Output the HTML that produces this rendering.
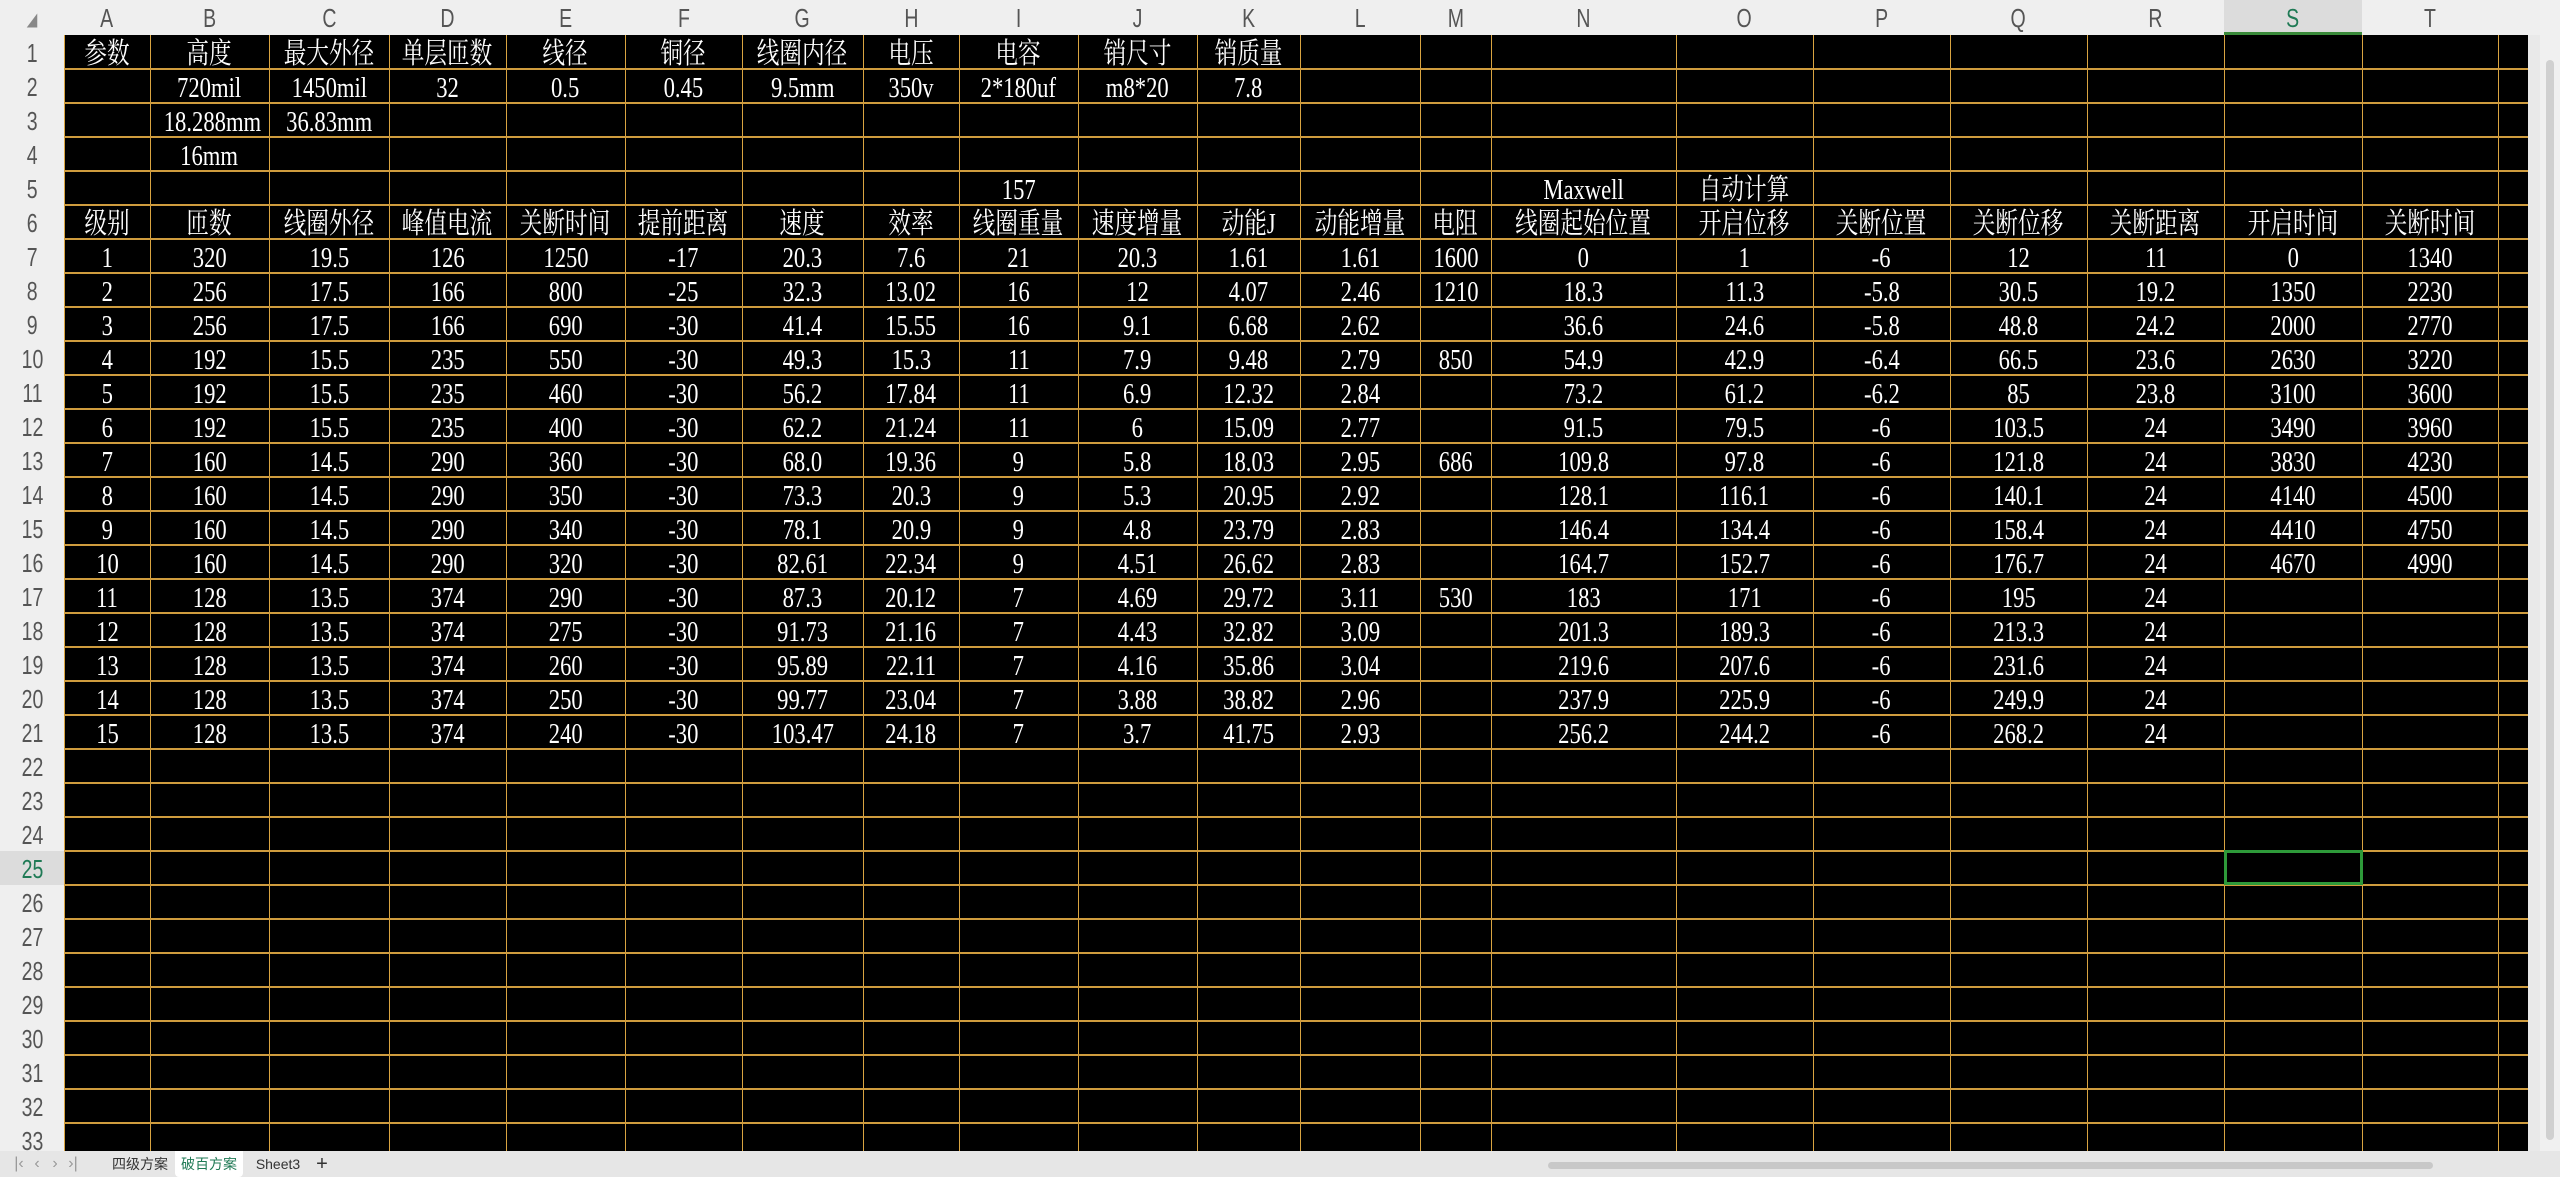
<!DOCTYPE html>
<html><head><meta charset="utf-8"><style>
body{margin:0;width:2560px;height:1177px;overflow:hidden;background:#e9e9e9;font-family:"Liberation Serif","Noto Serif CJK SC",serif;position:relative}
.c{position:absolute;box-sizing:border-box;color:#fff;text-align:center;white-space:nowrap;overflow:visible;font-size:29px;line-height:38px}
.c span{display:inline-block;transform:scaleX(0.78)}
.hd{position:absolute;color:#555;font-family:"Liberation Sans","Noto Sans CJK SC",sans-serif;font-size:26px;text-align:center}
.hd span{display:inline-block;transform:scaleX(0.75)}
.gl{position:absolute;background:#d9a441}
</style></head><body>
<div id="root"></div>
<script>
var colEdges=[64,150,269,389,506,625,742,863,959,1078,1197,1300,1420,1491,1676,1813,1950,2087,2224,2362,2498];
var colLetters=["A","B","C","D","E","F","G","H","I","J","K","L","M","N","O","P","Q","R","S","T"];
var rowTop=35, rowH=34, nRows=33, gridBottom=1151;
var sheetRows=[
["参数","高度","最大外径","单层匝数","线径","铜径","线圈内径","电压","电容","销尺寸","销质量"],
["","720mil","1450mil","32","0.5","0.45","9.5mm","350v","2*180uf","m8*20","7.8"],
["","18.288mm","36.83mm"],
["","16mm"],
["","","","","","","","","157","","","","","Maxwell","自动计算"],
["级别","匝数","线圈外径","峰值电流","关断时间","提前距离","速度","效率","线圈重量","速度增量","动能J","动能增量","电阻","线圈起始位置","开启位移","关断位置","关断位移","关断距离","开启时间","关断时间"],
["1","320","19.5","126","1250","-17","20.3","7.6","21","20.3","1.61","1.61","1600","0","1","-6","12","11","0","1340"],
["2","256","17.5","166","800","-25","32.3","13.02","16","12","4.07","2.46","1210","18.3","11.3","-5.8","30.5","19.2","1350","2230"],
["3","256","17.5","166","690","-30","41.4","15.55","16","9.1","6.68","2.62","","36.6","24.6","-5.8","48.8","24.2","2000","2770"],
["4","192","15.5","235","550","-30","49.3","15.3","11","7.9","9.48","2.79","850","54.9","42.9","-6.4","66.5","23.6","2630","3220"],
["5","192","15.5","235","460","-30","56.2","17.84","11","6.9","12.32","2.84","","73.2","61.2","-6.2","85","23.8","3100","3600"],
["6","192","15.5","235","400","-30","62.2","21.24","11","6","15.09","2.77","","91.5","79.5","-6","103.5","24","3490","3960"],
["7","160","14.5","290","360","-30","68.0","19.36","9","5.8","18.03","2.95","686","109.8","97.8","-6","121.8","24","3830","4230"],
["8","160","14.5","290","350","-30","73.3","20.3","9","5.3","20.95","2.92","","128.1","116.1","-6","140.1","24","4140","4500"],
["9","160","14.5","290","340","-30","78.1","20.9","9","4.8","23.79","2.83","","146.4","134.4","-6","158.4","24","4410","4750"],
["10","160","14.5","290","320","-30","82.61","22.34","9","4.51","26.62","2.83","","164.7","152.7","-6","176.7","24","4670","4990"],
["11","128","13.5","374","290","-30","87.3","20.12","7","4.69","29.72","3.11","530","183","171","-6","195","24"],
["12","128","13.5","374","275","-30","91.73","21.16","7","4.43","32.82","3.09","","201.3","189.3","-6","213.3","24"],
["13","128","13.5","374","260","-30","95.89","22.11","7","4.16","35.86","3.04","","219.6","207.6","-6","231.6","24"],
["14","128","13.5","374","250","-30","99.77","23.04","7","3.88","38.82","2.96","","237.9","225.9","-6","249.9","24"],
["15","128","13.5","374","240","-30","103.47","24.18","7","3.7","41.75","2.93","","256.2","244.2","-6","268.2","24"]
];
var root=document.getElementById('root');
function mk(cls,x,y,w,h,bg){var d=document.createElement('div');d.className=cls;d.style.left=x+'px';d.style.top=y+'px';d.style.width=w+'px';d.style.height=h+'px';if(bg)d.style.background=bg;root.appendChild(d);return d;}
var hb=mk('hd',0,0,2540,35,'#efefef');


var corner=mk('hd',0,0,64,35,'#efefef');corner.innerHTML='<span style="font-size:14px;color:#888">◢</span>';corner.style.lineHeight='35px';


var grid=mk('c',64,35,2464,gridBottom-35,'#000');


var rh=mk('hd',0,35,64,gridBottom-35,'#efefef');


for(var i=0;i<colLetters.length;i++){
  var x=colEdges[i],w=colEdges[i+1]-x;
  var h=mk('hd',x,0,w,35,i==18?'#dcdcdc':'');
  h.style.lineHeight='37px';h.innerHTML='<span>'+colLetters[i]+'</span>';
  if(i==18){h.style.color='#1f7a55';h.style.borderBottom='3px solid #3a8a3a';h.style.boxSizing='border-box';}
  
  
}
for(var r=0;r<nRows;r++){
  var y=rowTop+r*rowH;
  var hh=Math.min(rowH,gridBottom-y);
  var rr=mk('hd',0,y,64,hh,r==24?'#dcdcdc':'');
  rr.style.lineHeight='36px';rr.style.overflow='hidden';rr.innerHTML='<span>'+(r+1)+'</span>';
  if(r==24)rr.style.color='#1f7a55';
  
  
}
for(var i=0;i<colEdges.length;i++){
  var v=mk('gl',colEdges[i],35,1,gridBottom-35);
  
  
}
for(var r=1;r<nRows;r++){
  var g=mk('gl',64,rowTop+r*rowH-1,2464,2);
  g.style.background='#cf9c3e';
  
  
}
for(var r=0;r<sheetRows.length;r++){
  for(var c=0;c<sheetRows[r].length;c++){
    var t=sheetRows[r][c];if(!t)continue;
    var x=colEdges[c],w=colEdges[c+1]-x;
    var cell=mk('c',x,rowTop+r*rowH,w,rowH);
    cell.innerHTML='<span>'+t+'</span>';
    
    
  }
}
var sel=mk('c',colEdges[18],rowTop+24*rowH-1,colEdges[19]-colEdges[18]+1,rowH+1);
sel.style.border='3px solid #2e9a3a';


var vs=mk('c',2540,0,20,gridBottom,'#f0f0f0');


var vt=mk('c',2546,60,8,1080,'#d0d0d0');vt.style.borderRadius='4px';


var tb=mk('c',0,gridBottom,2560,1177-gridBottom,'#e6e6e6');


var navs=['|‹','‹','›','›|'];
for(var i=0;i<4;i++){var n=mk('hd',10+i*18,gridBottom,18,26);n.style.fontSize='16px';n.style.lineHeight='26px';n.style.color='#999';n.textContent=navs[i];

}
var tabs=[["四级方案",108,64,false],["破百方案",175,68,true],["Sheet3",250,56,false],["+",312,20,false]];
for(var i=0;i<tabs.length;i++){
  var tt=mk('hd',tabs[i][1],gridBottom,tabs[i][2],26,tabs[i][3]?'#fff':'');
  tt.style.fontSize=i==3?'20px':'14px';tt.style.lineHeight='26px';tt.style.color=tabs[i][3]?'#1f7a55':'#333';
  if(tabs[i][3])tt.style.borderRadius='0 0 4px 4px';
  tt.textContent=tabs[i][0];
  
  
}
var hs=mk('c',1548,1162,885,7,'#c8c8c8');hs.style.borderRadius='4px';


</script>
</body></html>
